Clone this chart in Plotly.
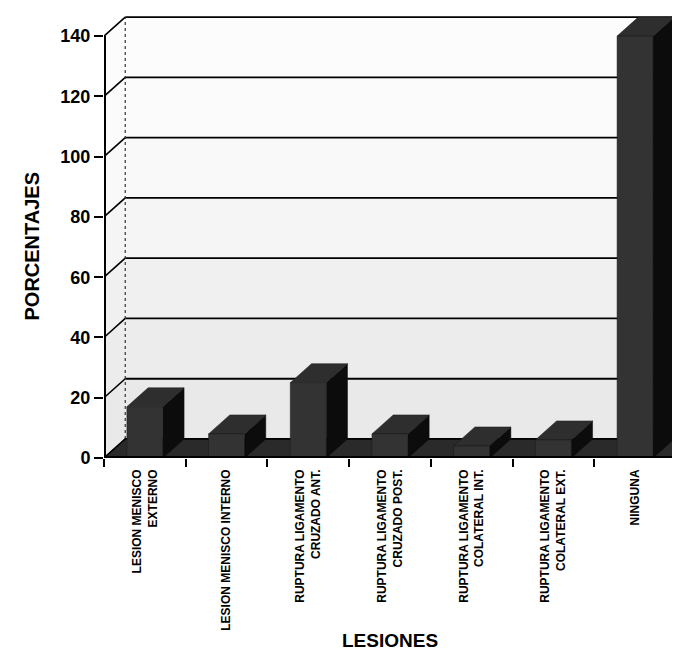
import plotly.graph_objects as go

# ---- data ----
categories = [
    "LESION MENISCO<br>EXTERNO",
    "LESION MENISCO INTERNO",
    "RUPTURA LIGAMENTO<br>CRUZADO ANT.",
    "RUPTURA LIGAMENTO<br>CRUZADO POST.",
    "RUPTURA LIGAMENTO<br>COLATERAL INT.",
    "RUPTURA LIGAMENTO<br>COLATERAL EXT.",
    "NINGUNA",
]
values = [17, 8, 25, 8, 4, 6, 140]
y_ticks = [0, 20, 40, 60, 80, 100, 120, 140]
y_title = "PORCENTAJES"
x_title = "LESIONES"

# ---- pseudo-3D geometry (style) ----
DX = 0.26      # depth offset in category units
DY = 6.3       # depth offset in value units
BAR_L, BAR_R = 0.28, 0.72
n = len(categories)
XMAX = 7.148
YMAX = 148
FONT = "Arial"

fig = go.Figure()

def poly(xs, ys, fill, line_color=None, width=0, dash=None):
    fig.add_trace(go.Scatter(
        x=xs, y=ys, mode="lines", fill="toself", fillcolor=fill,
        line=dict(color=line_color or fill, width=width, dash=dash),
        hoverinfo="skip", showlegend=False))

def line(xs, ys, color="black", width=1.6, dash=None):
    fig.add_trace(go.Scatter(
        x=xs, y=ys, mode="lines", line=dict(color=color, width=width, dash=dash),
        hoverinfo="skip", showlegend=False))

# back wall and left wall tinted bands
tints = ["#e9e9e9", "#ececec", "#f0f0f0", "#f5f5f5", "#f9f9f9", "#fbfbfb", "#fcfcfc"]
for k in range(len(y_ticks) - 1):
    a, b = y_ticks[k], y_ticks[k + 1]
    poly([DX, XMAX + 1, XMAX + 1, DX], [a + DY, a + DY, b + DY, b + DY], tints[k])
    poly([0, DX, DX, 0], [a, a + DY, b + DY, b], tints[k])

# back wall grid lines and left wall diagonals
for t in y_ticks:
    line([DX, XMAX + 1], [t + DY, t + DY], width=1.8)
    line([0, DX], [t, t + DY], width=1.6)
# back wall left edge (dotted)
line([DX, DX], [DY, y_ticks[-1] + DY], color="#333", width=1.2, dash="dot")

# floor
poly([0, n, n + DX, DX, 0], [0, 0, DY, DY, 0], "#2a2a2a", line_color="black", width=1.5)

# bars
fx, fy, tx, ty, sx, sy = [], [], [], [], [], []
for i, v in enumerate(values):
    x0, x1 = i + BAR_L, i + BAR_R
    fx += [x0, x1, x1, x0, x0, None]
    fy += [0, 0, v, v, 0, None]
    tx += [x0, x0 + DX, x1 + DX, x1, x0, None]
    ty += [v, v + DY, v + DY, v, v, None]
    sx += [x1, x1 + DX, x1 + DX, x1, x1, None]
    sy += [0, DY, v + DY, v, 0, None]
fig.add_trace(go.Scatter(x=sx, y=sy, mode="lines", fill="toself", fillcolor="#0c0c0c",
                         line=dict(color="#0c0c0c", width=0.5), hoverinfo="skip", showlegend=False))
fig.add_trace(go.Scatter(x=tx, y=ty, mode="lines", fill="toself", fillcolor="#2e2e2e",
                         line=dict(color="#1a1a1a", width=0.5), hoverinfo="skip", showlegend=False))
fig.add_trace(go.Scatter(x=fx, y=fy, mode="lines", fill="toself", fillcolor="#333333",
                         line=dict(color="#1a1a1a", width=0.5), hoverinfo="skip", showlegend=False))

# front axes (half clipped at plot edge -> thick width)
line([0, 0], [0, y_ticks[-1]], width=4)
line([0, n], [0, 0], width=4)

fig.update_layout(
    width=680, height=652,
    margin=dict(l=96, r=0, t=4, b=202, autoexpand=False),
    paper_bgcolor="white", plot_bgcolor="white",
    font=dict(family=FONT, color="black"),
    showlegend=False,
    xaxis=dict(
        range=[0, XMAX], showgrid=False, zeroline=False, showline=False,
        tickmode="array", tickvals=[i + 0.5 for i in range(n)], ticktext=categories,
        tickangle=-90, ticks="", ticklabelstandoff=8,
        tickfont=dict(family=FONT, size=12, color="black", weight="bold"),
        minor=dict(tickmode="array", tickvals=list(range(n + 1)), ticks="outside",
                   ticklen=8, tickwidth=1.5, tickcolor="black", showgrid=False),
        automargin=False, fixedrange=True,
    ),
    yaxis=dict(
        range=[0, YMAX], showgrid=False, zeroline=False, showline=False,
        tickmode="array", tickvals=y_ticks, ticks="outside", ticklen=9,
        tickwidth=1.5, tickcolor="black",
        tickfont=dict(family=FONT, size=18, color="black", weight="bold"),
        automargin=False, fixedrange=True,
    ),
    annotations=[
        dict(text=y_title, xref="paper", yref="paper", x=(23.5 - 96) / 584, y=(450 - 238) / 446,
             xanchor="center", yanchor="middle", textangle=-90, showarrow=False,
             font=dict(family=FONT, size=20, color="black", weight="bold")),
        dict(text=x_title, xref="paper", yref="paper", x=(382 - 96) / 584, y=(450 - 632) / 446,
             xanchor="center", yanchor="middle", showarrow=False,
             font=dict(family=FONT, size=19, color="black", weight="bold")),
    ],
)

fig.write_html("out.html")
